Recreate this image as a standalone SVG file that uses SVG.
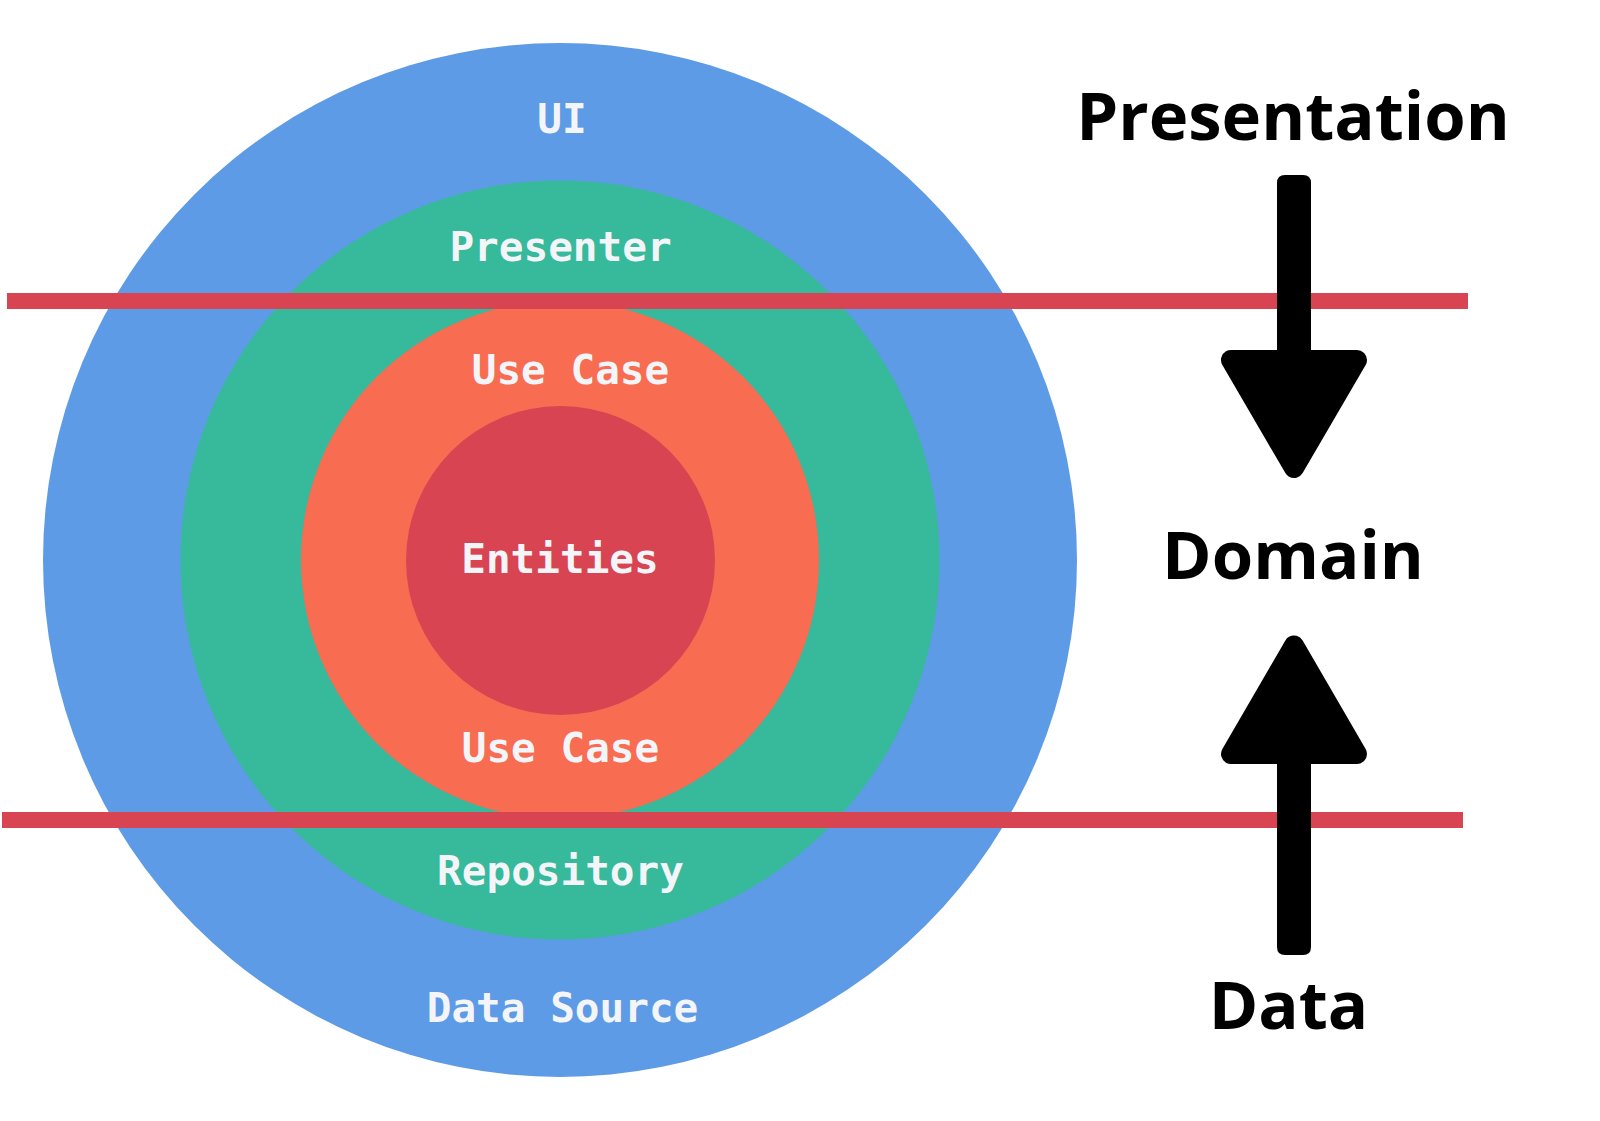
<svg xmlns="http://www.w3.org/2000/svg" width="1600" height="1121" viewBox="0 0 1600 1121">
<style>
.lbl{font-family:"DejaVu Sans Mono","Liberation Mono",monospace;font-weight:bold;font-size:41px;fill:#F4F5F9;text-anchor:middle}
.layer{font-family:"Open Sans","Noto Sans","Liberation Sans",sans-serif;font-weight:bold;font-size:67px;fill:#000;text-anchor:middle}
.arrow{fill:#000;stroke:#000;stroke-width:20;stroke-linejoin:round}
.divider{fill:#D84452}
</style>
<rect width="1600" height="1121" fill="#fff"/>
<g id="ring-outer"><circle cx="560" cy="560" r="517" fill="#5E9BE6"/></g>
<g id="ring-green"><circle cx="560" cy="560" r="379.5" fill="#37B99B"/></g>
<g id="ring-orange"><circle cx="560" cy="560" r="259" fill="#F86C52"/></g>
<g id="core"><circle cx="560.5" cy="560.5" r="154.5" fill="#D84452"/></g>
<g id="dividers">
<rect class="divider" x="7" y="293" width="1461" height="16"/>
<rect class="divider" x="2" y="812" width="1461" height="16"/>
</g>
<g id="ring-labels">
<text class="lbl" x="562" y="132.5">UI</text>
<text class="lbl" x="560.5" y="261">Presenter</text>
<text class="lbl" x="570.5" y="383.5">Use Case</text>
<text class="lbl" x="560" y="572.5">Entities</text>
<text class="lbl" x="560.5" y="761.5">Use Case</text>
<text class="lbl" x="560.5" y="885">Repository</text>
<text class="lbl" x="562.5" y="1022">Data Source</text>
</g>
<g id="connectors">
<g id="arrow-down">
<path d="M1277 360 V183 Q1277 175 1285 175 H1303 Q1311 175 1311 183 V360 Z" fill="#000"/>
<polygon class="arrow" points="1231,360 1357,360 1294,468"/>
</g>
<g id="arrow-up">
<path d="M1277 754 V947 Q1277 955 1285 955 H1303 Q1311 955 1311 947 V754 Z" fill="#000"/>
<polygon class="arrow" points="1231,754 1357,754 1294,645.5"/>
</g>
</g>
<g id="layer-labels">
<text class="layer" x="1293" y="139.5">Presentation</text>
<text class="layer" x="1293" y="578.5">Domain</text>
<text class="layer" x="1288.5" y="1028.5">Data</text>
</g>
</svg>
